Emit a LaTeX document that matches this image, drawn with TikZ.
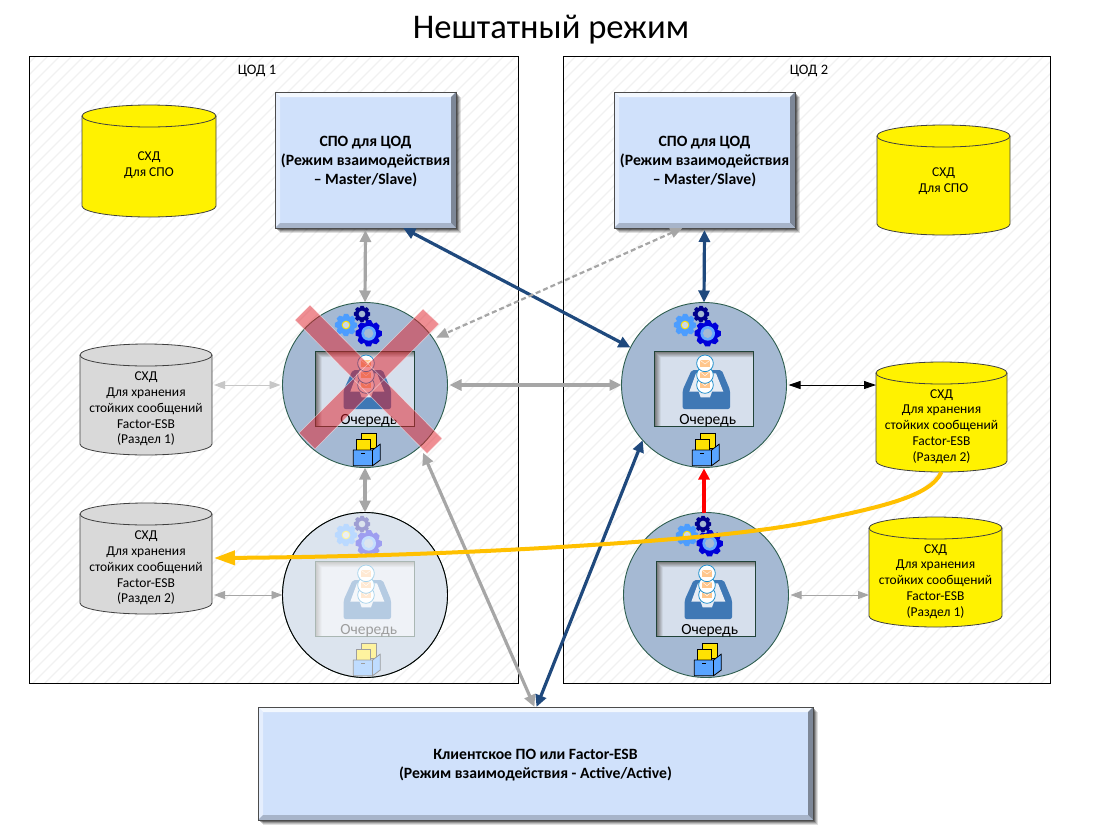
\documentclass[tikz,border=0pt]{standalone}
\usepackage{fontspec}
\setmainfont{Carlito}
\usetikzlibrary{arrows.meta,calc,shadings}
\definecolor{panelc}{HTML}{D6DFEC}
\definecolor{circc}{HTML}{A5B9D3}
\definecolor{ringc}{HTML}{2F5F50}
\definecolor{trayc}{HTML}{3F78B5}
\definecolor{boxc}{HTML}{D0E1FB}
\definecolor{navyc}{HTML}{1F497D}
\definecolor{grayc}{HTML}{A6A6A6}
\definecolor{orangec}{HTML}{FFC000}
\definecolor{crossc}{HTML}{E11E28}
\definecolor{stripec}{HTML}{F1F1F1}
\tikzset{
  x=1pt,y=-1pt,
  every node/.style={inner sep=0pt,outer sep=0pt},
  circq/.style={circle,minimum size=165pt,draw=ringc,fill=circc,line width=.9pt},
  dcbox/.style={draw=black,line width=.8pt},
  cyltext/.style={align=center,font=\fontsize{13.5}{15.8}\selectfont},
  qtext/.style={font=\fontsize{15.5}{16}\selectfont},
  bevtext/.style={align=center,font=\bfseries\fontsize{15.7}{19}\selectfont},
  thickgray/.style={grayc,line width=3.2pt,{Triangle[length=12pt,width=11pt]}-{Triangle[length=12pt,width=11pt]}},
  thickblue/.style={navyc,line width=3.2pt,{Triangle[length=12pt,width=11pt]}-{Triangle[length=12pt,width=11pt]}},
  thingray/.style={grayc,line width=.9pt,{Triangle[length=11pt,width=8pt]}-{Triangle[length=11pt,width=8pt]}},
  thinblack/.style={black,line width=.9pt,{Triangle[length=12pt,width=8pt]}-{Triangle[length=12pt,width=8pt]}},
}
% gear: cx cy outer-radius body-colour hole-radius hole-colour
\newcommand{\gearicon}[6]{%
  \fill[#4] ({#1+#3*.78*cos(-19)},{#2+#3*.78*sin(-19)})
    \foreach \a in {0,45,...,315}{
     -- ({#1+#3*cos(\a-10)},{#2+#3*sin(\a-10)})
     -- ({#1+#3*cos(\a+10)},{#2+#3*sin(\a+10)})
     -- ({#1+#3*.78*cos(\a+26)},{#2+#3*.78*sin(\a+26)})
    } -- cycle;
  \fill[#6] (#1,#2) circle[radius=#5];
}
\newcommand{\queueicon}[3]{%
 \node[circq] (q#1) at (#2,#3) {};
 \begin{scope}[shift={({#2-94},{#3-95})},x=.33333pt,y=-.33333pt]
  % gears
  \gearicon{225}{105}{34}{blue!55!cyan!70!white}{13}{yellow!85!orange}
  \fill[panelc!80!circc] (225,105) circle[radius=9.5];
  \gearicon{293}{130}{40}{blue!85!black}{22}{blue!55!cyan!60!white}
  \fill[circc] (293,130) circle[radius=14];
  \gearicon{273}{72}{25}{blue!55!black}{10}{circc}
  % panel
  \fill[panelc] (133,184) rectangle (431,409);
  \shade[left color=black!55,right color=panelc] (133,184) rectangle (152,409);
  \shade[top color=black!55,bottom color=panelc] (133,184) -- (431,184) -- (431,202) -- (152,202) -- cycle;
  \draw[ringc!70!black,line width=.9pt] (133,184) rectangle (431,409);
  % tray
  \fill[trayc,rounded corners=2pt] (245,240) -- (335,240) -- (360,300) -- (360,357) -- (218,357) -- (218,300) -- cycle;
  \fill[panelc!60!white] (258,250) -- (318,250) -- (340,305) -- (306,305) -- (300,322) -- (272,322) -- (266,305) -- (238,305) -- cycle;
  % messages
  \foreach \yy in {285,255,220}{
    \filldraw[fill=white,draw=cyan!80!blue!90!black,line width=.8pt] (285,\yy) circle[radius=25];
    \fill[orange!45!white] (271,\yy-9) rectangle (299,\yy+10);
    \draw[white,line width=.4pt] (271,\yy-9) -- (285,\yy+2) -- (299,\yy-9);
  }
  % box
  \filldraw[fill=yellow!85!orange,draw=black,line width=.8pt] (272,430) -- (315,430) -- (315,475) -- (272,475) -- cycle;
  \filldraw[fill=yellow!85!orange,draw=black,line width=.8pt] (255,447) -- (298,447) -- (298,480) -- (255,480) -- cycle;
  \filldraw[fill=blue!55!cyan!65!white,draw=black,line width=.8pt,line join=round] (247,480) -- (305,480) -- (328,462) -- (328,510) -- (305,527) -- (247,527) -- cycle;
  \draw[black,line width=.8pt] (305,480) -- (305,527);
  \draw[black,line width=.8pt] (270,491) -- (281,491);
  \node[qtext] (t#1) at (293,391) {Очередь};
 \end{scope}
}
% cylinder: name x1 y1 x2 y2 fill texty text
\newcommand{\storage}[8]{%
  \filldraw[fill=#6,draw=black!75,line width=.8pt]
    (#2,{#3+11}) arc[start angle=180,end angle=360,x radius={(#4-#2)/2},y radius=11] -- (#4,{#5-11})
    arc[start angle=0,end angle=180,x radius={(#4-#2)/2},y radius=11] -- cycle;
  \draw[black!75,line width=.8pt] (#2,{#3+11}) arc[start angle=180,end angle=0,x radius={(#4-#2)/2},y radius=11];
  \node[cyltext,minimum width={#4-#2}] (#1) at ({(#2+#4)/2},#7) {#8};
  \coordinate (#1-b) at ({(#2+#4)/2},#5);
}
% bevelled box: name x1 y1 x2 y2 text
\newcommand{\bevelbox}[6]{%
  \foreach \o/\p in {5/.12,4/.15,3/.2,2/.3}{
    \fill[black,opacity=\p] ({#2+\o},{#3+\o}) rectangle ({#4+\o},{#5+\o});}
  \fill[boxc] (#2,#3) rectangle (#4,#5);
  \fill[white!75!boxc] (#2,#3) -- (#4,#3) -- ({#4-5},{#3+5}) -- ({#2+5},{#3+5}) -- cycle;
  \fill[white!45!boxc] (#2,#3) -- ({#2+5},{#3+5}) -- ({#2+5},{#5-5}) -- (#2,#5) -- cycle;
  \fill[black!40!boxc] (#4,#3) -- ({#4-5},{#3+5}) -- ({#4-5},{#5-5}) -- (#4,#5) -- cycle;
  \fill[black!20!boxc] (#2,#5) -- ({#2+5},{#5-5}) -- ({#4-5},{#5-5}) -- (#4,#5) -- cycle;
  \node[draw=black!70,line width=.9pt,minimum width={#4-#2},minimum height={#5-#3}] (#1) at ({(#2+#4)/2},{(#3+#5)/2}) {};
  \node[bevtext] (#1t) at ({(#2+#4)/2},{(#3+#5)/2+2}) {#6};
}
\begin{document}
\begin{tikzpicture}
\useasboundingbox (0,0) rectangle (1104,836);
\fill[white] (0,0) rectangle (1104,836);
\node[font=\fontsize{34.6}{40}\selectfont] (title) at (551,30) {Нештатный режим};
% data centres
\begin{scope}
  \clip (29,56) rectangle (518,683);
  \foreach \s in {80,92,...,1740} \draw[stripec,line width=1.2pt] (\s,0) -- (0,\s);
\end{scope}
\begin{scope}
  \clip (563,56) rectangle (1050,683);
  \foreach \s in {80,92,...,1740} \draw[stripec,line width=1.2pt] (\s,0) -- (0,\s);
\end{scope}
\draw[dcbox] (29,56) rectangle (518,683);
\draw[dcbox] (563,56) rectangle (1050,683);
\node[font=\fontsize{14.5}{16}\selectfont] (dc1) at (257,71) {ЦОД 1};
\node[font=\fontsize{14.5}{16}\selectfont] (dc2) at (809,71) {ЦОД 2};
% storage
\storage{sa}{82}{105}{216}{217}{yellow}{165}{СХД\\Для СПО}
\storage{sb}{877}{125}{1010}{235}{yellow}{181}{СХД\\Для СПО}
\storage{g1}{80}{344}{212}{455}{black!15}{409}{СХД\\Для хранения\\стойких сообщений\\Factor-ESB\\(Раздел 1)}
\storage{g2}{80}{503}{212}{614}{black!15}{568}{СХД\\Для хранения\\стойких сообщений\\Factor-ESB\\(Раздел 2)}
\storage{y2}{876}{362}{1007}{472}{yellow}{426.5}{СХД\\Для хранения\\стойких сообщений\\Factor-ESB\\(Раздел 2)}
\storage{y1}{869}{517}{1002}{627}{yellow}{581.5}{СХД\\Для хранения\\стойких сообщений\\Factor-ESB\\(Раздел 1)}
% boxes
\bevelbox{b1}{275}{92}{456}{228}{СПО для ЦОД\\(Режим взаимодействия\\– Master/Slave)}
\bevelbox{b2}{614}{92}{795}{228}{СПО для ЦОД\\(Режим взаимодействия\\– Master/Slave)}
\bevelbox{cl}{258}{707}{813}{820}{Клиентское ПО или Factor-ESB\\(Режим взаимодействия - Active/Active)}
% queues
\queueicon{1}{365}{385}
\queueicon{2}{704}{385}
\queueicon{3}{365}{595}
\queueicon{4}{706}{595}
% fade q3
\fill[white,opacity=.62] (q3.center) circle[radius=82.5];
\draw[black,line width=.9pt] (q3.center) circle[radius=82.5];
% crossed-out q1
\path[fill=crossc,fill opacity=.5,draw=white,draw opacity=.5,line width=.6pt]
  (310,305) -- (442,438.5) -- (427,453.5) -- (295,320) -- cycle
  (423,309) -- (439,324) -- (315,449) -- (299,433) -- cycle;
% connectors
\draw[thickgray] (b1.south) ++(0,2) -- (q1.north);
\draw[thickblue] (b1.-61) -- (q2.153);
\draw[grayc,line width=2.2pt,dash pattern=on 5pt off 3pt,{Triangle[length=12pt,width=10pt]}-{Triangle[length=12pt,width=10pt]},shorten >=3pt] (b2.-108) -- (q1.34);
\draw[thickblue] (b2.south) ++(0,2) -- (q2.north);
\draw[thickgray,shorten <=2pt] (q1.east) -- (q2.west);
\draw[thickgray] (q1.south) -- (q3.north);
\draw[red,line width=3.2pt,-{Triangle[length=11pt,width=11pt]}] (q4.north) ++(-2,0) -- ++(0,-44);
\draw[thickgray,shorten <=7pt] (q1.-48) -- ([xshift=-1pt]cl.north);
\draw[thickblue] (q2.-138) -- ([xshift=1pt]cl.north);
\draw[thingray,black!22,shorten <=2pt,shorten >=2pt] (g1.east |- q1.west) -- (q1.west);
\draw[thingray] (g2.east |- q3.west) ++(2,0) -- (q3.west);
\draw[thinblack,shorten <=2pt] (q2.east) -- (y2.west |- q2.east);
\draw[thingray,shorten <=2pt] (q4.east) -- (y1.west |- q4.east);
\coordinate (oend) at (214,558);
\draw[orangec,line width=4pt,-{Triangle[length=21pt,width=14pt]}] (y2-b)
  .. controls (930,497) and (880,507) .. (810,522)
  .. controls (745,535) and (640,542) .. (560,547)
  .. controls (460,553) and (350,557) .. (oend);
\end{tikzpicture}
\end{document}
